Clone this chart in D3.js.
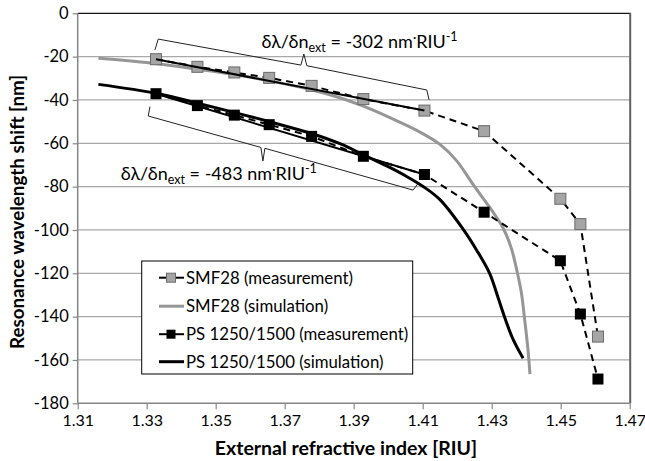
<!DOCTYPE html>
<html>
<head>
<meta charset="utf-8">
<script src="https://cdn.jsdelivr.net/npm/d3@7/dist/d3.min.js"></script>
<style>
  html, body { margin: 0; padding: 0; background: #fff; }
  svg { display: block; }
  text { font-family: Lato, "Open Sans", sans-serif; fill: #000; }
</style>
</head>
<body>
<svg id="chart" width="645" height="461"></svg>
<script>
// ---------------- data ----------------
const xTicks = [1.31, 1.33, 1.35, 1.37, 1.39, 1.41, 1.43, 1.45, 1.47];
const yTicks = [0, -20, -40, -60, -80, -100, -120, -140, -160, -180];

const measX   = [1.3327, 1.3447, 1.3554, 1.3655, 1.3778, 1.3928, 1.4105, 1.4278, 1.4499, 1.4557, 1.4608];
const smfMeas = [-21.2, -24.7, -27.3, -29.8, -33.5, -39.6, -44.9, -54.4, -85.6, -97.3, -149.2];
const psMeas  = [-37.1, -42.6, -47.0, -51.4, -56.8, -66.0, -74.4, -91.8, -114.2, -138.8, -168.8];

const smfSimX = [1.316, 1.333, 1.345, 1.357, 1.366, 1.378, 1.386, 1.393, 1.400, 1.408, 1.415, 1.4198, 1.4246, 1.428, 1.431, 1.4336, 1.4357, 1.4372, 1.4386, 1.4396, 1.4405, 1.4411];
const smfSimY = [-20.8, -23.3, -25.9, -28.7, -31.3, -35.4, -39.0, -43.0, -47.8, -53.8, -60.5, -68.0, -79.0, -86.5, -93.2, -100.0, -108.5, -118.0, -129.0, -142.0, -155.0, -166.5];

const psSimX = [1.316, 1.333, 1.345, 1.355, 1.366, 1.378, 1.386, 1.3927, 1.400, 1.405, 1.410, 1.415, 1.4217, 1.4256, 1.4294, 1.4316, 1.4338, 1.4362, 1.4391];
const psSimY = [-32.8, -37.0, -41.6, -45.6, -50.2, -55.6, -60.2, -65.2, -70.8, -75.0, -79.8, -86.0, -99.6, -109.2, -120.0, -130.0, -140.5, -150.5, -159.2];

const fitX   = [1.3327, 1.4105];
const smfFit = [-21.2, -44.9];
const psFit  = [-37.1, -74.4];

const seriesNames = ["SMF28 (measurement)", "SMF28 (simulation)", "PS 1250/1500 (measurement)", "PS 1250/1500 (simulation)"];
const slopeLabels = ["-302", "-483"];

// bracket outlines in data units [RIU, nm]
const braceTopX = [1.33239, 1.33335, 1.37469, 1.37556, 1.37643, 1.41119, 1.41185];
const braceTopY = [-16.9, -11.9, -23.9, -18.8, -24.2, -35.4, -40.0];
const braceBotX = [1.33094, 1.33045, 1.3631, 1.36368, 1.36426, 1.40722, 1.40867];
const braceBotY = [-43.1, -47.4, -61.9, -68.2, -62.3, -81.6, -78.5];

// label anchors in data units
const labelTop = [1.3633, -15.9];
const labelBot = [1.3225, -76.8];

// ---------------- chart ----------------
const svg = d3.select("#chart");
const x = d3.scaleLinear().domain([1.31, 1.47]).range([77.7, 629.7]);
const y = d3.scaleLinear().domain([-180, 0]).range([403.3, 13.3]);

const pLeft = x.range()[0], pRight = x.range()[1];
const pTop = y.range()[1], pBottom = y.range()[0];

// gridlines
svg.append("g").selectAll("line")
  .data(yTicks.filter(v => v !== 0 && v !== -180))
  .join("line")
  .attr("x1", pLeft).attr("x2", pRight)
  .attr("y1", d => y(d)).attr("y2", d => y(d))
  .attr("stroke", "#a8a8a8").attr("stroke-width", 1.2);

// frame top / right
svg.append("line").attr("x1", pLeft).attr("x2", pRight + 1).attr("y1", pTop).attr("y2", pTop)
  .attr("stroke", "#111").attr("stroke-width", 1.3);
svg.append("line").attr("x1", pRight + 0.5).attr("x2", pRight + 0.5).attr("y1", pTop).attr("y2", pBottom)
  .attr("stroke", "#606060").attr("stroke-width", 2);

// axes
const xAxis = d3.axisBottom(x).tickValues(xTicks).tickSize(6).tickPadding(5)
  .tickFormat(d3.format(".2f"));
const yAxis = d3.axisLeft(y).tickValues(yTicks).tickSize(5).tickPadding(4)
  .tickFormat(d => String(d));

const gx = svg.append("g").attr("transform", `translate(0,${pBottom})`).call(xAxis);
const gy = svg.append("g").attr("transform", `translate(${pLeft},0)`).call(yAxis);
[gx, gy].forEach(g => {
  g.select(".domain").attr("stroke", "#868686").attr("stroke-width", 1.5);
  g.selectAll(".tick line").attr("stroke", "#868686").attr("stroke-width", 1.2);
  g.selectAll(".tick text").attr("font-family", "Lato, 'Open Sans', sans-serif")
    .attr("font-size", 16.5).attr("fill", "#000");
});
gx.selectAll(".tick text").attr("font-size", 16);
gx.select(".domain").attr("d", `M${pLeft},0H${pRight}`);
gy.select(".domain").attr("d", `M0,${pTop}V${pBottom}`);

// axis titles
svg.append("text").attr("x", 346).attr("y", 455).attr("text-anchor", "middle")
  .attr("font-size", 19.5).attr("font-weight", "bold")
  .text("External refractive index [RIU]");
svg.append("text").attr("transform", "translate(24,212) rotate(-90)").attr("text-anchor", "middle")
  .attr("font-size", 18.8).attr("font-weight", "bold")
  .text("Resonance wavelength shift [nm]");

// simulation curves
const line = d3.line().x(d => x(d[0])).y(d => y(d[1])).curve(d3.curveCatmullRom.alpha(0.5));
const straight = d3.line().x(d => x(d[0])).y(d => y(d[1]));

svg.append("path").datum(d3.zip(smfSimX, smfSimY)).attr("d", line)
  .attr("fill", "none").attr("stroke", "#969696").attr("stroke-width", 3);
svg.append("path").datum(d3.zip(psSimX, psSimY)).attr("d", line)
  .attr("fill", "none").attr("stroke", "#000").attr("stroke-width", 3);

// measurement dashed lines
[smfMeas, psMeas].forEach(vals => {
  svg.append("path").datum(d3.zip(measX, vals)).attr("d", straight)
    .attr("fill", "none").attr("stroke", "#000").attr("stroke-width", 2)
    .attr("stroke-dasharray", "7,5");
});

// markers
const sq = 11;
svg.append("g").selectAll("rect").data(d3.zip(measX, smfMeas)).join("rect")
  .attr("x", d => x(d[0]) - sq / 2).attr("y", d => y(d[1]) - sq / 2)
  .attr("width", sq).attr("height", sq)
  .attr("fill", "#a5a5a5").attr("stroke", "#6a6a6a").attr("stroke-width", 1);
svg.append("g").selectAll("rect").data(d3.zip(measX, psMeas)).join("rect")
  .attr("x", d => x(d[0]) - sq / 2).attr("y", d => y(d[1]) - sq / 2)
  .attr("width", sq).attr("height", sq)
  .attr("fill", "#000");

// linear fit lines
[smfFit, psFit].forEach(vals => {
  svg.append("path").datum(d3.zip(fitX, vals)).attr("d", straight)
    .attr("fill", "none").attr("stroke", "#000").attr("stroke-width", 2);
});

// braces
[[braceTopX, braceTopY], [braceBotX, braceBotY]].forEach(([bx, by]) => {
  svg.append("path").datum(d3.zip(bx, by)).attr("d", straight)
    .attr("fill", "none").attr("stroke", "#222").attr("stroke-width", 1);
});

// slope labels
function slopeLabel(pos, val) {
  const t = svg.append("text").attr("x", x(pos[0])).attr("y", y(pos[1])).attr("font-size", 18);
  t.append("tspan").text("δλ/δn");
  t.append("tspan").attr("font-size", 12.5).attr("dy", 4).text("ext");
  t.append("tspan").attr("dy", -4).text(` = ${val} nm`);
  t.append("tspan").attr("font-size", 12.5).attr("dy", -6).text("·");
  t.append("tspan").attr("dy", 6).text("RIU");
  t.append("tspan").attr("font-size", 12.5).attr("dy", -7).text("-1");
}
slopeLabel(labelTop, slopeLabels[0]);
slopeLabel(labelBot, slopeLabels[1]);

// legend
const lg = svg.append("g");
lg.append("rect").attr("x", 141.7).attr("y", 261).attr("width", 271).attr("height", 113)
  .attr("fill", "#fff").attr("stroke", "#000").attr("stroke-width", 1);
const rowY = [277.7, 306.2, 334.2, 361.7];
seriesNames.forEach((name, i) => {
  const g = lg.append("g").attr("transform", `translate(0,${rowY[i]})`);
  const isMeas = i % 2 === 0;
  const col = i < 2 ? "#969696" : "#000";
  if (isMeas) {
    g.append("line").attr("x1", 159).attr("x2", 184).attr("stroke", "#000").attr("stroke-width", 2);
    g.append("rect").attr("x", 166.5).attr("y", -4.5).attr("width", 9).attr("height", 9)
      .attr("fill", i === 0 ? "#a5a5a5" : "#000").attr("stroke", i === 0 ? "#6a6a6a" : "none");
  } else {
    g.append("line").attr("x1", 159).attr("x2", 184).attr("stroke", col).attr("stroke-width", 3);
  }
  g.append("text").attr("x", 186).attr("y", 6).attr("font-size", 16.8).text(name);
});
</script>
</body>
</html>
